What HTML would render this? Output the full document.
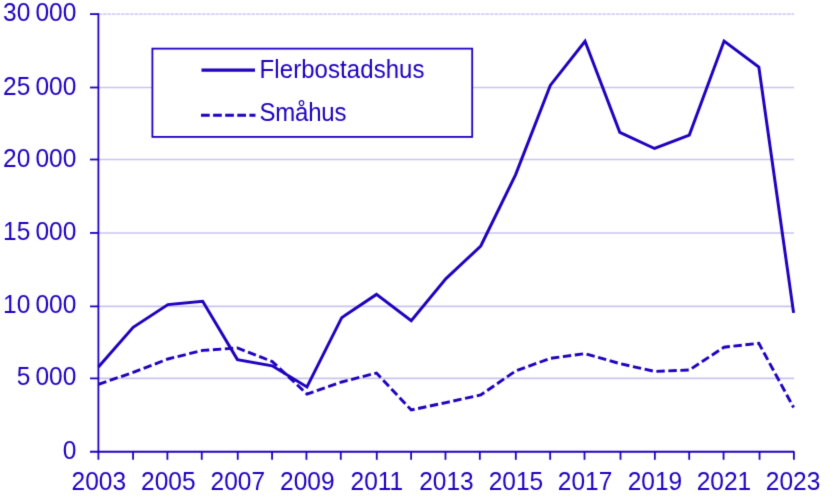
<!DOCTYPE html>
<html lang="sv"><head><meta charset="utf-8"><title>Påbörjade lägenheter</title>
<style>
html,body{margin:0;padding:0;background:#fff;}
body{width:832px;height:500px;overflow:hidden;}
svg{display:block;}
.yl{font-size:24.5px;word-spacing:-1.7px}.xl{font-size:24.5px}
text{font-family:"Liberation Sans",sans-serif;font-size:24px;fill:#1E00BE;}
</style></head><body>
<svg width="832" height="500" viewBox="0 0 832 500">
<defs><filter id="soft" x="0" y="0" width="832" height="500" filterUnits="userSpaceOnUse" color-interpolation-filters="sRGB"><feConvolveMatrix order="3" kernelMatrix="0.01440 0.09120 0.01440 0.09120 0.57760 0.09120 0.01440 0.09120 0.01440" edgeMode="duplicate" preserveAlpha="false"/></filter></defs>
<rect width="832" height="500" fill="#fff"/>
<g filter="url(#soft)">
<line x1="98.4" y1="14.1" x2="794" y2="14.1" stroke="#C9C4F0" stroke-width="1.6" stroke-opacity="0.8" stroke-dasharray="3.7 0.8"/>
<line x1="98.4" y1="87.5" x2="794" y2="87.5" stroke="#C9C4F0" stroke-width="1.6"/>
<line x1="98.4" y1="159.5" x2="794" y2="159.5" stroke="#C9C4F0" stroke-width="1.6"/>
<line x1="98.4" y1="232.95" x2="794" y2="232.95" stroke="#C9C4F0" stroke-width="1.6"/>
<line x1="98.4" y1="306.4" x2="794" y2="306.4" stroke="#C9C4F0" stroke-width="1.6"/>
<line x1="98.4" y1="378.4" x2="794" y2="378.4" stroke="#C9C4F0" stroke-width="1.6"/>
<rect x="152.4" y="48.65" width="319.8" height="88.25" fill="#fff" stroke="#1E00BE" stroke-width="1.8"/>
<line x1="98.4" y1="13.2" x2="98.4" y2="459.8" stroke="#1E00BE" stroke-width="1.8"/>
<line x1="90" y1="451.75" x2="794.4" y2="451.75" stroke="#1E00BE" stroke-width="1.8"/>
<line x1="90" y1="14.1" x2="98.4" y2="14.1" stroke="#1E00BE" stroke-width="1.8"/>
<line x1="90" y1="87.5" x2="98.4" y2="87.5" stroke="#1E00BE" stroke-width="1.8"/>
<line x1="90" y1="159.5" x2="98.4" y2="159.5" stroke="#1E00BE" stroke-width="1.8"/>
<line x1="90" y1="232.95" x2="98.4" y2="232.95" stroke="#1E00BE" stroke-width="1.8"/>
<line x1="90" y1="306.4" x2="98.4" y2="306.4" stroke="#1E00BE" stroke-width="1.8"/>
<line x1="90" y1="378.4" x2="98.4" y2="378.4" stroke="#1E00BE" stroke-width="1.8"/>
<line x1="133.05" y1="451.75" x2="133.05" y2="459.8" stroke="#1E00BE" stroke-width="1.8"/>
<line x1="167.40" y1="451.75" x2="167.40" y2="459.8" stroke="#1E00BE" stroke-width="1.8"/>
<line x1="201.75" y1="451.75" x2="201.75" y2="459.8" stroke="#1E00BE" stroke-width="1.8"/>
<line x1="237.74" y1="451.75" x2="237.74" y2="459.8" stroke="#1E00BE" stroke-width="1.8"/>
<line x1="272.09" y1="451.75" x2="272.09" y2="459.8" stroke="#1E00BE" stroke-width="1.8"/>
<line x1="306.44" y1="451.75" x2="306.44" y2="459.8" stroke="#1E00BE" stroke-width="1.8"/>
<line x1="340.79" y1="451.75" x2="340.79" y2="459.8" stroke="#1E00BE" stroke-width="1.8"/>
<line x1="376.78" y1="451.75" x2="376.78" y2="459.8" stroke="#1E00BE" stroke-width="1.8"/>
<line x1="411.13" y1="451.75" x2="411.13" y2="459.8" stroke="#1E00BE" stroke-width="1.8"/>
<line x1="445.48" y1="451.75" x2="445.48" y2="459.8" stroke="#1E00BE" stroke-width="1.8"/>
<line x1="479.83" y1="451.75" x2="479.83" y2="459.8" stroke="#1E00BE" stroke-width="1.8"/>
<line x1="515.82" y1="451.75" x2="515.82" y2="459.8" stroke="#1E00BE" stroke-width="1.8"/>
<line x1="550.17" y1="451.75" x2="550.17" y2="459.8" stroke="#1E00BE" stroke-width="1.8"/>
<line x1="584.52" y1="451.75" x2="584.52" y2="459.8" stroke="#1E00BE" stroke-width="1.8"/>
<line x1="620.51" y1="451.75" x2="620.51" y2="459.8" stroke="#1E00BE" stroke-width="1.8"/>
<line x1="654.86" y1="451.75" x2="654.86" y2="459.8" stroke="#1E00BE" stroke-width="1.8"/>
<line x1="689.21" y1="451.75" x2="689.21" y2="459.8" stroke="#1E00BE" stroke-width="1.8"/>
<line x1="723.56" y1="451.75" x2="723.56" y2="459.8" stroke="#1E00BE" stroke-width="1.8"/>
<line x1="759.55" y1="451.75" x2="759.55" y2="459.8" stroke="#1E00BE" stroke-width="1.8"/>
<line x1="793.90" y1="451.75" x2="793.90" y2="459.8" stroke="#1E00BE" stroke-width="1.8"/>
<text class="yl" transform="translate(76.3,21.10) scale(1,1.055)" text-anchor="end">30 000</text>
<text class="yl" transform="translate(76.3,94.50) scale(1,1.055)" text-anchor="end">25 000</text>
<text class="yl" transform="translate(76.3,166.50) scale(1,1.055)" text-anchor="end">20 000</text>
<text class="yl" transform="translate(76.3,239.95) scale(1,1.055)" text-anchor="end">15 000</text>
<text class="yl" transform="translate(76.3,313.40) scale(1,1.055)" text-anchor="end">10 000</text>
<text class="yl" transform="translate(76.3,385.40) scale(1,1.055)" text-anchor="end">5 000</text>
<text class="yl" transform="translate(76.3,458.75) scale(1,1.055)" text-anchor="end">0</text>
<text class="xl" transform="translate(98.80,490.3) scale(1,1.055)" text-anchor="middle">2003</text>
<text class="xl" transform="translate(168.32,490.3) scale(1,1.055)" text-anchor="middle">2005</text>
<text class="xl" transform="translate(237.84,490.3) scale(1,1.055)" text-anchor="middle">2007</text>
<text class="xl" transform="translate(307.36,490.3) scale(1,1.055)" text-anchor="middle">2009</text>
<text class="xl" transform="translate(376.88,490.3) scale(1,1.055)" text-anchor="middle">2011</text>
<text class="xl" transform="translate(446.40,490.3) scale(1,1.055)" text-anchor="middle">2013</text>
<text class="xl" transform="translate(515.92,490.3) scale(1,1.055)" text-anchor="middle">2015</text>
<text class="xl" transform="translate(585.04,490.3) scale(1,1.055)" text-anchor="middle">2017</text>
<text class="xl" transform="translate(654.96,490.3) scale(1,1.055)" text-anchor="middle">2019</text>
<text class="xl" transform="translate(723.98,490.3) scale(1,1.055)" text-anchor="middle">2021</text>
<text class="xl" transform="translate(793.10,490.3) scale(1,1.055)" text-anchor="middle">2023</text>
<polyline points="98.40,384.30 133.16,372.40 167.92,359.00 202.68,350.40 237.44,348.00 272.20,361.50 306.96,394.00 341.72,382.00 376.48,373.00 411.24,410.00 446.00,402.60 480.76,395.00 515.52,371.00 550.28,358.40 585.04,353.60 619.80,363.60 654.56,371.40 689.32,370.00 724.08,347.20 758.84,343.30 793.60,407.50" fill="none" stroke="#1E00BE" stroke-width="2.9" stroke-dasharray="8.4 3.6" stroke-linejoin="miter"/>
<polyline points="98.40,367.00 133.16,327.30 167.92,304.60 202.68,301.30 237.44,359.60 272.20,365.80 306.96,387.00 341.72,317.70 376.48,294.40 411.24,320.60 446.00,278.60 480.76,246.00 515.52,174.80 550.28,85.40 585.04,41.30 619.80,132.40 654.56,148.50 689.32,135.10 724.08,41.00 758.84,67.00 793.60,312.90" fill="none" stroke="#1E00BE" stroke-width="2.95" stroke-linejoin="miter"/>
<line x1="201.5" y1="70.1" x2="255" y2="70.1" stroke="#1E00BE" stroke-width="3.1"/>
<line x1="201" y1="115.2" x2="255.5" y2="115.2" stroke="#1E00BE" stroke-width="3.1" stroke-dasharray="8.7 3.4"/>
<text transform="translate(259.6,77.6) scale(1,1.055)" style="letter-spacing:0.07px">Flerbostadshus</text>
<text transform="translate(259.5,121) scale(1,1.055)" style="letter-spacing:-0.2px">Småhus</text>
</g>
</svg></body></html>
